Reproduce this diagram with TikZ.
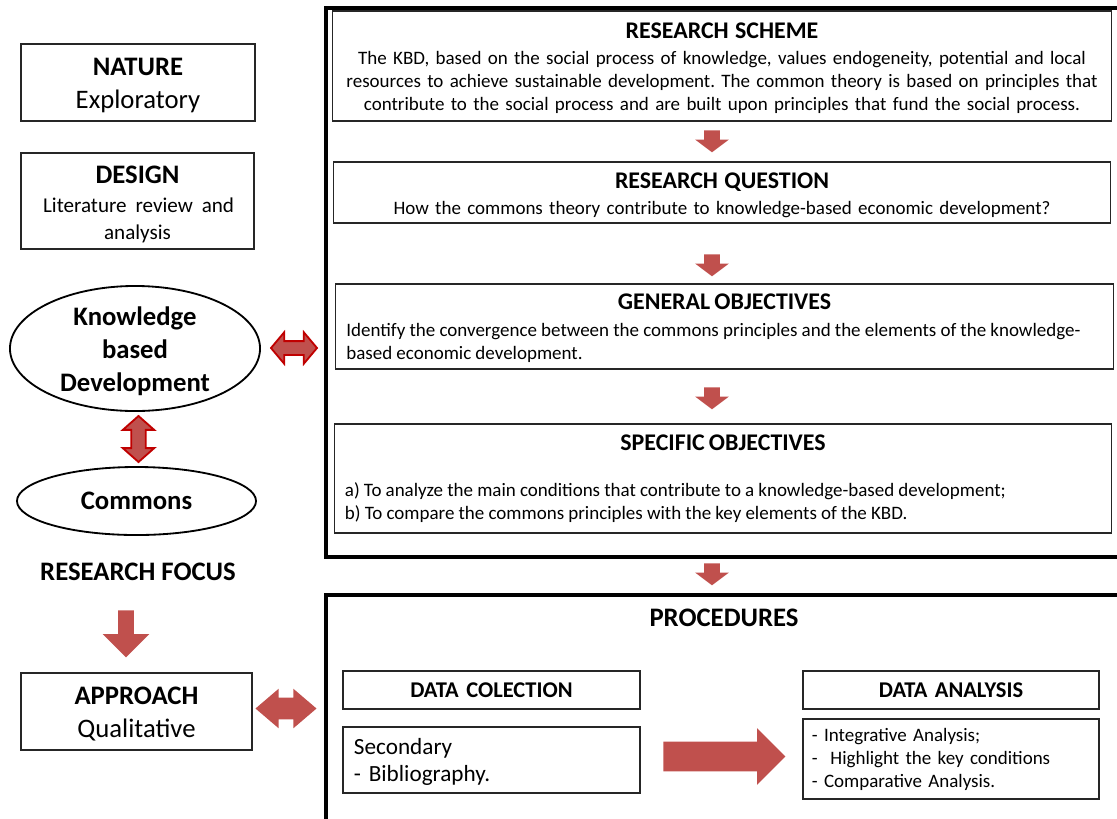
\documentclass[tikz,border=0pt]{standalone}
\usepackage{fontspec}
\setmainfont{Carlito}
\usetikzlibrary{shapes,shapes.arrows,positioning}
\definecolor{redfill}{RGB}{192,80,77}
\definecolor{redline}{RGB}{192,0,0}
\frenchspacing
\newcommand{\boxtitle}[1]{{\fontsize{17}{20}\selectfont\bfseries #1}}
\newcommand{\tightwords}{\spaceskip=0.22em plus 0.1em minus 0.06em\relax}
\tikzset{
    box/.style={draw=black!85,line width=0.8pt,rectangle,inner sep=0pt,align=center,text width=5.6cm,font=\fontsize{19}{23.5}\selectfont},
    ibox/.style={draw=black!85,line width=0.8pt,rectangle,inner sep=0pt,align=center,text width=19cm,font=\fontsize{13.5}{16.4}\selectfont},
    lbox/.style={ibox,align=left,inner xsep=0.25cm,text width=18.9cm,execute at begin node=\tightwords},
    big frame/.style={draw=black,line width=2.9pt,rectangle,inner sep=0pt},
}

\begin{document}
\begin{tikzpicture}[x=0.025cm,y=-0.025cm,
    main node/.style={ellipse,draw=black,line width=1.3pt,inner sep=0pt,font=\fontsize{19}{23.5}\selectfont\bfseries},
    dbl arrow/.style={double arrow,fill=redfill,inner xsep=0pt,minimum width=0pt},
    blk arrow/.style={single arrow,fill=redfill,inner xsep=0pt,minimum width=0pt,anchor=tail},
    down arrow/.style={blk arrow,rotate=-90,minimum height=0.55cm,inner ysep=0.1875cm,single arrow head extend=0.225cm,single arrow tip angle=106}]
    \useasboundingbox (0,0) rectangle (1117,818);
    \clip (0,0) rectangle (1117,818);

    % left column
    \node[box,minimum width=5.85cm,minimum height=1.925cm] (nat) at (138,82.5) {\textbf{NATURE}\\Exploratory\par\kern-4.2pt};
    \node[box,minimum width=5.825cm,minimum height=2.4cm] (des) at (137.5,201) {{\bfseries DESIGN}\\[2.8pt]{\fontsize{15}{18.5}\selectfont\makebox[4.72cm][s]{Literature review and}\\analysis\par}\kern-4.2pt};
    \node[main node,minimum width=6.25cm,minimum height=3.125cm,label={[align=center,yshift=-2.1pt,font=\fontsize{19}{23.5}\selectfont\bfseries]center:Knowledge\\based\\Development}] (kbd) at (135,348.5) {};
    \node[main node,minimum width=5.975cm,minimum height=1.7cm] (com) at (136.5,501) {Commons};
    \node[font=\fontsize{19}{23.5}\selectfont\bfseries] (foc) at (138,572) {RESEARCH FOCUS};
    \node[box,minimum width=5.775cm,minimum height=1.925cm] (app) at (136.5,711.5) {\textbf{APPROACH}\\Qualitative\par\kern-4.2pt};

    \node[dbl arrow,draw=redline,line width=1.3pt,minimum height=1.15cm,inner ysep=0.15cm,double arrow head extend=0.22cm,double arrow tip angle=100] (a1) at (294,348) {};
    \node[dbl arrow,draw=redline,line width=1.3pt,rotate=90,minimum height=1.15cm,inner ysep=0.16cm,double arrow head extend=0.21cm,double arrow tip angle=97] (a2) at (138.5,439) {};
    \node[blk arrow,rotate=-90,minimum height=1.175cm,inner ysep=0.1875cm,single arrow head extend=0.3875cm,single arrow tip angle=90] (a3) at (126,610) {};
    \node[dbl arrow,minimum height=1.525cm,inner ysep=0.2625cm,double arrow head extend=0.225cm,double arrow tip angle=81] (a4) at (286,708.5) {};

    % right column
    \node[big frame,minimum width=20.35cm,minimum height=13.725cm] (sch) at (733,282.5) {};
    \node[big frame,minimum width=20.35cm,minimum height=6.125cm] (pro) at (733,717.5) {};

    \node[ibox,minimum width=19.45cm,minimum height=2.75cm] (rs) at (722,66) {\boxtitle{RESEARCH SCHEME}\\[2.1pt]
        The KBD, based on the social process of knowledge, values endogeneity, potential and local\\
        resources to achieve sustainable development. The common theory is based on principles that\\
        contribute to the social process and are built upon principles that fund the social process.\par\kern-3pt};
    \node[ibox,minimum width=19.4cm,minimum height=1.525cm] (rq) at (722,192.5) {\boxtitle{RESEARCH QUESTION}\\[2.1pt]
        How the commons theory contribute to knowledge-based economic development?\par\kern-4pt};
    \node[lbox,minimum width=19.425cm,minimum height=2.125cm] (go) at (724.5,326.5) {\makebox[\linewidth]{\boxtitle{GENERAL OBJECTIVES}}\\[2.8pt]
        Identify the convergence between the commons principles and the elements of the knowledge-\\
        based economic development.\par\kern-2pt};
    \node[lbox,minimum width=19.35cm,minimum height=2.725cm] (so) at (723,478.5) {\makebox[\linewidth]{\boxtitle{SPECIFIC OBJECTIVES}}\\[16.3pt]
        a) To analyze the main conditions that contribute to a knowledge-based development;\\
        b) To compare the commons principles with the key elements of the KBD.};

    \node[down arrow] (d1) at (712,130) {};
    \node[down arrow] (d2) at (712,254) {};
    \node[down arrow] (d3) at (712,387) {};
    \node[down arrow] (d4) at (712,563) {};

    \node[font=\fontsize{19}{23.5}\selectfont\bfseries] (pt) at (724,618) {PROCEDURES};
    \node[ibox,text width=7.425cm,minimum width=7.425cm,minimum height=0.95cm,font=\fontsize{16}{19}\selectfont\bfseries] (dc) at (491.5,690) {DATA COLECTION};
    \node[ibox,align=left,inner xsep=0.275cm,text width=6.875cm,minimum width=7.425cm,minimum height=1.65cm,font=\fontsize{16.5}{19.2}\selectfont] (sec) at (491.5,760) {Secondary\\- Bibliography.\par\kern-2.5pt};
    \node[ibox,text width=7.4cm,minimum width=7.4cm,minimum height=0.95cm,font=\fontsize{16}{19}\selectfont\bfseries] (da) at (951,690) {DATA ANALYSIS};
    \node[ibox,align=left,inner xsep=0.225cm,text width=6.95cm,minimum width=7.4cm,minimum height=2cm] (ana) at (951,759) {- Integrative Analysis;\\-\ \ Highlight the key conditions\\- Comparative Analysis.};

    \node[blk arrow,minimum height=3.05cm,inner ysep=0.3625cm,single arrow head extend=0.3375cm,single arrow tip angle=90] (a5) at (663,756.5) {};
\end{tikzpicture}
\end{document}
